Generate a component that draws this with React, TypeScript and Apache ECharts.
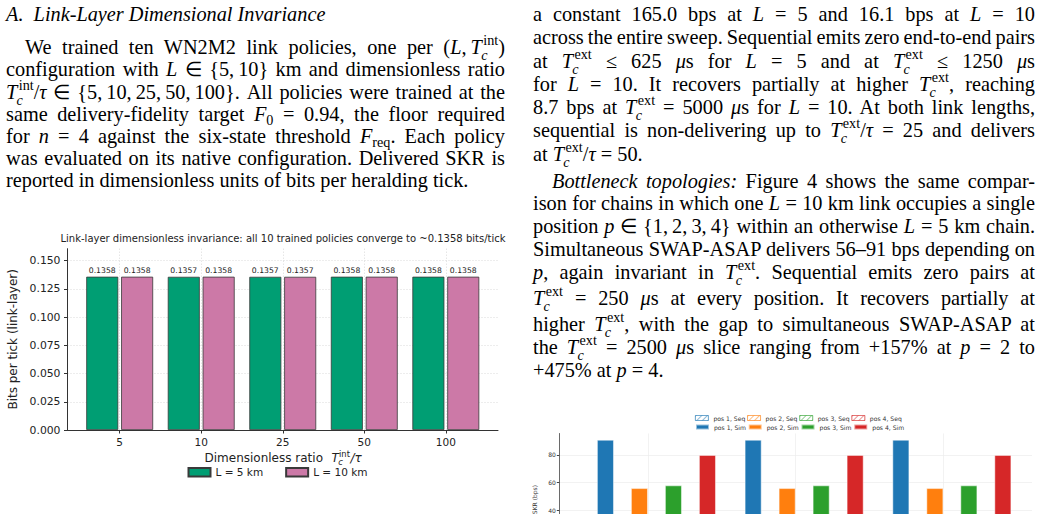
import React, { useEffect, useRef } from 'react';
import * as echarts from 'echarts';

// link-layer invariance (bits per heralding tick)
const ratioLabels = ['5', '10', '25', '50', '100'];
const bitsL5 = [0.1358, 0.1357, 0.1357, 0.1358, 0.1358];
const bitsL10 = [0.1358, 0.1358, 0.1357, 0.1358, 0.1358];
const bitsTicks = [0, 0.025, 0.05, 0.075, 0.1, 0.125, 0.15];

// bottleneck topologies (bps), one row per bottleneck position
const extLabels = ['250', '1250', '2500'];
const positions = ['pos 1', 'pos 2', 'pos 3', 'pos 4'];
const simSkr = [
  [91, 91, 91],
  [56, 56, 56],
  [58, 58, 58],
  [80, 80, 80],
];
const seqSkr = [
  [0, 10, 33],
  [0, 7, 22],
  [0, 8, 25],
  [0, 4, 14],
];
const skrTicks = [0, 20, 40, 60, 80];

const POS_COLORS = ['#1f77b4', '#ff7f0e', '#2ca02c', '#d62728'];
const POS_HATCH = ['rgba(31,119,180,0.5)', 'rgba(255,127,14,0.5)', 'rgba(44,160,44,0.5)', 'rgba(214,39,40,0.5)'];
const SANS = '"DejaVu Sans", sans-serif';
const SERIF = '"Liberation Serif", "Times New Roman", serif';

const TH = '\u2009'; // thin space (math comma)

// T_c^{s}
const Tc: React.FC<{ s: string }> = ({ s }) => (
  <span style={{ whiteSpace: 'nowrap' }}>
    <i>T</i>
    <span style={{ display: 'inline-block', position: 'relative', fontSize: '0.7em', lineHeight: 1 }}>
      <span style={{ position: 'relative', top: '-0.62em', marginLeft: '0.1em' }}>{s}</span>
      <i style={{ position: 'absolute', left: '-0.05em', top: '0.45em' }}>c</i>
    </span>
  </span>
);

const Sub: React.FC<{ children: React.ReactNode }> = ({ children }) => (
  <span style={{ fontSize: '0.7em', position: 'relative', top: '0.3em' }}>{children}</span>
);

interface LineProps {
  x: number;
  y: number;
  w: number;
  last?: boolean;
  indent?: number;
  children: React.ReactNode;
}

// one typeset line of the two-column text; full lines are justified
const Line: React.FC<LineProps> = ({ x, y, w, last, indent = 0, children }) => (
  <div
    style={{
      position: 'absolute',
      left: x + indent,
      top: y - 12,
      width: w - indent,
      height: 24,
      lineHeight: '24px',
      wordSpacing: last ? 'normal' : '-0.1em',
      textAlign: last ? 'left' : 'justify',
      textAlignLast: last ? 'left' : 'justify',
    }}
  >
    {children}
  </div>
);

const LX = 6;
const LW = 499;
const RX = 533;
const RW = 502;

function linkOption(): any {
  const barStyle = (color: string) => ({ color, borderColor: '#3a3a3a', borderWidth: 0.8 });
  const label = {
    show: true,
    position: 'top',
    distance: 2,
    fontSize: 7.7,
    fontFamily: SANS,
    color: '#222',
    formatter: (p: any) => p.value[1].toFixed(4),
  };
  const dotted = { color: '#d0d0d0', type: [1, 2], width: 0.8 };
  const txt = (text: string, x: number, y: number, size: number, italic = false, align = 'left') => ({
    type: 'text',
    x,
    y,
    silent: true,
    style: {
      text,
      fontSize: size,
      fontStyle: italic ? 'italic' : 'normal',
      fontFamily: SANS,
      fill: '#222',
      align,
      verticalAlign: 'middle',
    },
  });
  return {
    animation: false,
    textStyle: { fontFamily: SANS },
    grid: { left: 67.5, right: 17, top: 20.7, bottom: 53, outerBoundsMode: 'none' },
    legend: {
      left: 187.5,
      top: 238.8,
      padding: 0,
      icon: 'rect',
      itemWidth: 22,
      itemHeight: 8.5,
      itemGap: 22,
      textStyle: { fontSize: 10.5, color: '#222', fontFamily: SANS },
      data: ['L = 5 km', 'L = 10 km'],
    },
    xAxis: {
      type: 'value',
      min: -0.64,
      max: 4.64,
      axisLine: { show: true, onZero: false, lineStyle: { color: '#333', width: 1 } },
      axisTick: { show: true, length: 3.5, lineStyle: { color: '#333' }, customValues: [0, 1, 2, 3, 4] },
      axisLabel: {
        customValues: [0, 1, 2, 3, 4],
        formatter: (v: number) => ratioLabels[Math.round(v)],
        fontSize: 10.5,
        color: '#222',
        margin: 6,
        fontFamily: SANS,
      },
      splitLine: { show: true, lineStyle: dotted },
    },
    yAxis: {
      type: 'value',
      min: 0,
      max: 0.1606,
      name: 'Bits per tick (link-layer)',
      nameLocation: 'middle',
      nameGap: 42.5,
      nameTextStyle: { fontSize: 12, color: '#222', fontFamily: SANS },
      axisLine: { show: true, onZero: false, lineStyle: { color: '#333', width: 1 } },
      axisTick: { show: true, length: 3.5, lineStyle: { color: '#333' }, customValues: bitsTicks },
      axisLabel: {
        customValues: bitsTicks,
        formatter: (v: number) => v.toFixed(3),
        fontSize: 10.8,
        color: '#222',
        margin: 7,
        fontFamily: SANS,
      },
      splitLine: { show: true, lineStyle: dotted },
    },
    graphic: [
      txt('Link-layer dimensionless invariance: all 10 trained policies converge to ~0.1358 bits/tick', 283, 10.3, 10, false, 'center'),
      txt('Dimensionless ratio', 204.5, 229.7, 12),
      txt('T', 331.5, 229.7, 12, true),
      txt('int', 339, 225.5, 8.4),
      txt('c', 338.3, 234, 8.4, true),
      txt('/τ', 350.5, 229.7, 12, true),
    ],
    series: [
      {
        name: 'L = 5 km',
        type: 'bar',
        barWidth: 32,
        barGap: '9%',
        itemStyle: barStyle('#009E73'),
        label,
        data: bitsL5.map((v, i) => [i, v]),
      },
      {
        name: 'L = 10 km',
        type: 'bar',
        barWidth: 32,
        barGap: '9%',
        itemStyle: barStyle('#CC79A7'),
        label,
        data: bitsL10.map((v, i) => [i, v]),
      },
    ],
  };
}

function bottleneckOption(): any {
  const grid = { color: '#ececec', width: 0.7 };
  const series: any[] = [];
  const hatch = (k: number) => ({
    color: '#ffffff',
    borderColor: POS_HATCH[k],
    borderWidth: 0.8,
    decal: { symbol: 'rect', symbolSize: 1, color: POS_HATCH[k], dashArrayX: [1, 0], dashArrayY: [0.8, 2.6], rotation: -Math.PI / 4 },
  });
  positions.forEach((pos, k) => {
    const c = POS_COLORS[k];
    series.push({
      name: `${pos}, Seq`,
      type: 'bar',
      barWidth: 17,
      barGap: '0%',
      itemStyle: hatch(k),
      data: seqSkr[k].map((v, i) => [i, v]),
    });
    series.push({
      name: `${pos}, Sim`,
      type: 'bar',
      barWidth: 17,
      barGap: '0%',
      itemStyle: { color: c, borderColor: 'rgba(255,255,255,0.55)', borderWidth: 0.9 },
      data: simSkr[k].map((v, i) => [i, v]),
    });
  });
  const legendBase = {
    left: 175,
    padding: 0,
    icon: 'rect',
    itemWidth: 13,
    itemHeight: 5,
    itemGap: 1.8,
    textStyle: { fontSize: 6.1, lineHeight: 7, color: '#333', fontFamily: SANS },
  };
  return {
    animation: false,
    textStyle: { fontFamily: SANS },
    grid: { left: 39.3, right: 10, top: 28.5, bottom: 59.4, outerBoundsMode: 'none' },
    legend: [
      { ...legendBase, top: 9.5, data: positions.map((p, k) => ({ name: `${p}, Seq`, itemStyle: hatch(k) })) },
      { ...legendBase, top: 18.5, data: positions.map((p) => `${p}, Sim`) },
    ],
    xAxis: {
      type: 'value',
      min: -0.6,
      max: 2.6,
      axisLine: { show: true, onZero: false, lineStyle: { color: '#444', width: 0.8 } },
      axisTick: { show: true, length: 2.5, lineStyle: { color: '#444' }, customValues: [0, 1, 2] },
      axisLabel: {
        customValues: [0, 1, 2],
        formatter: (v: number) => extLabels[Math.round(v)],
        fontSize: 6,
        color: '#333',
        margin: 3.5,
      },
      splitLine: { show: true, lineStyle: grid },
    },
    yAxis: {
      type: 'value',
      min: 0,
      max: 95.5,
      name: 'SKR (bps)',
      nameLocation: 'middle',
      nameGap: 15.6,
      nameTextStyle: { fontSize: 6, color: '#333', fontFamily: SANS },
      axisLine: { show: true, onZero: false, lineStyle: { color: '#444', width: 0.8 } },
      axisTick: { show: true, length: 2.5, lineStyle: { color: '#444' }, customValues: skrTicks },
      axisLabel: { customValues: skrTicks, fontSize: 6, color: '#333', margin: 3.5 },
      splitLine: { show: true, lineStyle: grid },
    },
    series,
  };
}

const App: React.FC = () => {
  const linkRef = useRef<HTMLDivElement>(null);
  const bottleRef = useRef<HTMLDivElement>(null);

  useEffect(() => {
    if (!linkRef.current || !bottleRef.current) return;
    const linkChart = echarts.init(linkRef.current, undefined, { renderer: 'svg' });
    linkChart.setOption(linkOption());
    const bottleChart = echarts.init(bottleRef.current, undefined, { renderer: 'svg' });
    bottleChart.setOption(bottleneckOption());
    return () => {
      linkChart.dispose();
      bottleChart.dispose();
    };
  }, []);

  return (
    <div
      style={{
        position: 'fixed',
        left: 0,
        top: 0,
        width: 1042,
        height: 514,
        overflow: 'hidden',
        background: '#fff',
        color: '#000',
        fontFamily: SERIF,
        fontSize: 20.3,
      }}
    >
      {/* left column */}
      <Line x={LX} y={14} w={LW} last>
        <i>A.{'\u2002'}Link-Layer Dimensional Invariance</i>
      </Line>
      <Line x={LX} y={47} w={LW} indent={19}>
        We trained ten WN2M2 link policies, one per (<i>L</i>,{TH}<Tc s="int" />)
      </Line>
      <Line x={LX} y={69} w={LW}>
        configuration with <i>L</i> ∈ {'{'}5,{TH}10{'}'} km and dimensionless ratio
      </Line>
      <Line x={LX} y={92} w={LW}>
        <Tc s="int" />/<i>τ</i> ∈ {'{'}5,{TH}10,{TH}25,{TH}50,{TH}100{'}'}. All policies were trained at the
      </Line>
      <Line x={LX} y={114} w={LW}>
        same delivery-fidelity target <i>F</i>
        <Sub>0</Sub> = 0.94, the floor required
      </Line>
      <Line x={LX} y={136} w={LW}>
        for <i>n</i> = 4 against the six-state threshold <i>F</i>
        <Sub>req</Sub>. Each policy
      </Line>
      <Line x={LX} y={158} w={LW}>
        was evaluated on its native configuration. Delivered SKR is
      </Line>
      <Line x={LX} y={180} w={LW} last>
        reported in dimensionless units of bits per heralding tick.
      </Line>

      {/* right column */}
      <Line x={RX} y={14} w={RW}>
        a constant 165.0 bps at <i>L</i> = 5 and 16.1 bps at <i>L</i> = 10
      </Line>
      <Line x={RX} y={37} w={RW}>
        across the entire sweep. Sequential emits zero end-to-end pairs
      </Line>
      <Line x={RX} y={61} w={RW}>
        at <Tc s="ext" /> ≤ 625 <i>μ</i>s for <i>L</i> = 5 and at <Tc s="ext" /> ≤ 1250 <i>μ</i>s
      </Line>
      <Line x={RX} y={84} w={RW}>
        for <i>L</i> = 10. It recovers partially at higher <Tc s="ext" />, reaching
      </Line>
      <Line x={RX} y={107} w={RW}>
        8.7 bps at <Tc s="ext" /> = 5000 <i>μ</i>s for <i>L</i> = 10. At both link lengths,
      </Line>
      <Line x={RX} y={130} w={RW}>
        sequential is non-delivering up to <Tc s="ext" />/<i>τ</i> = 25 and delivers
      </Line>
      <Line x={RX} y={154} w={RW} last>
        at <Tc s="ext" />/<i>τ</i> = 50.
      </Line>
      <Line x={RX} y={181} w={RW} indent={19}>
        <i>Bottleneck topologies:</i> Figure 4 shows the same compar-
      </Line>
      <Line x={RX} y={203} w={RW}>
        ison for chains in which one <i>L</i> = 10 km link occupies a single
      </Line>
      <Line x={RX} y={226} w={RW}>
        position <i>p</i> ∈ {'{'}1,{TH}2,{TH}3,{TH}4{'}'} within an otherwise <i>L</i> = 5 km chain.
      </Line>
      <Line x={RX} y={249} w={RW}>
        Simultaneous SWAP-ASAP delivers 56–91 bps depending on
      </Line>
      <Line x={RX} y={272} w={RW}>
        <i>p</i>, again invariant in <Tc s="ext" />. Sequential emits zero pairs at
      </Line>
      <Line x={RX} y={298} w={RW}>
        <Tc s="ext" /> = 250 <i>μ</i>s at every position. It recovers partially at
      </Line>
      <Line x={RX} y={324} w={RW}>
        higher <Tc s="ext" />, with the gap to simultaneous SWAP-ASAP at
      </Line>
      <Line x={RX} y={347} w={RW}>
        the <Tc s="ext" /> = 2500 <i>μ</i>s slice ranging from +157% at <i>p</i> = 2 to
      </Line>
      <Line x={RX} y={370} w={RW} last>
        +475% at <i>p</i> = 4.
      </Line>

      <div ref={linkRef} style={{ position: 'absolute', left: 0, top: 228, width: 515, height: 255 }} />
      <div ref={bottleRef} style={{ position: 'absolute', left: 520, top: 405, width: 522, height: 220 }} />
    </div>
  );
};

export default App;
